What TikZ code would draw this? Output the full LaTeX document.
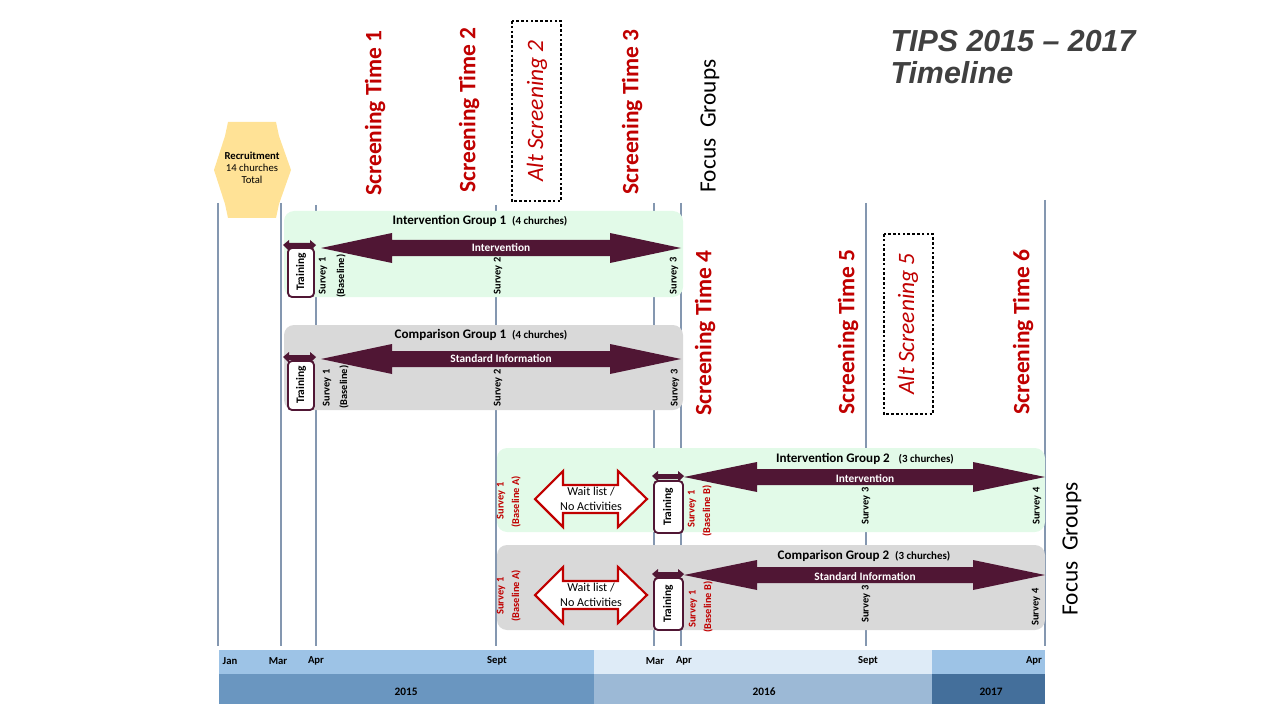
\documentclass[tikz,border=0pt]{standalone}
\usepackage{fontspec}
\setmainfont{Carlito}
\newfontfamily\titlefont[Ligatures=TeX]{Liberation Sans}

\definecolor{wine}{RGB}{80,22,52}
\definecolor{scrred}{RGB}{192,0,0}
\definecolor{mintfill}{RGB}{226,250,232}
\definecolor{greyfill}{RGB}{217,217,217}
\definecolor{markline}{RGB}{132,151,176}
\definecolor{recruitfill}{RGB}{255,226,150}
\definecolor{monthA}{RGB}{157,195,230}
\definecolor{monthB}{RGB}{222,235,247}
\definecolor{yearA}{RGB}{106,150,192}
\definecolor{yearB}{RGB}{156,185,214}
\definecolor{yearC}{RGB}{68,111,155}
\definecolor{titlegrey}{RGB}{64,64,64}

\tikzset{every picture/.style={line width=0.75pt}}
\tikzset{
  markline/.style={draw=markline, line width=1.1pt},
  groupbox/.style={draw=none, rounded corners=7.5pt},
  wineshape/.style={fill=wine, draw=none},
  trainbox/.style={draw=wine, fill=white, line width=1.4pt, rounded corners=3pt},
  waitshape/.style={draw=scrred, fill=white, line width=1.6pt},
  altbox/.style={draw=black, line width=2pt, dash pattern={on 2pt off 1.6pt}},
  screening/.style={rotate=90, inner sep=0pt, text=scrred, font=\fontsize{17.6}{21}\selectfont\bfseries},
  altscreen/.style={rotate=90, inner sep=0pt, text=scrred, font=\fontsize{17.6}{21}\selectfont\itshape},
  focus/.style={rotate=90, inner sep=0pt, font=\fontsize{17.5}{21}\selectfont},
  training/.style={rotate=90, inner sep=0pt, font=\fontsize{8.6}{10}\selectfont\bfseries},
  survey/.style={rotate=90, anchor=west, inner sep=0pt, font=\fontsize{7.8}{9}\selectfont\bfseries},
  redsurvey/.style={survey, text=scrred},
  grouptitle/.style={inner sep=0pt, font=\fontsize{9.8}{11}\selectfont\bfseries},
  arrowlabel/.style={inner sep=0pt, text=white, font=\fontsize{8.5}{10}\selectfont\bfseries},
  monthlabel/.style={inner sep=0pt, font=\fontsize{8}{9}\selectfont\bfseries},
  yearlabel/.style={inner sep=0pt, font=\fontsize{8.5}{10}\selectfont\bfseries},
}

\begin{document}
\begin{tikzpicture}[x=0.75pt,y=0.75pt,yscale=-1,xscale=1]
\useasboundingbox (0,0) rectangle (1280,720);

%Shape: Double Arrow [recruitment]
\draw [fill=recruitfill, draw=none] (228,122) -- (276,122) -- (279,136) -- (291,170) -- (279,204) -- (276,218) -- (228,218) -- (225,204) -- (214,170) -- (225,136) -- cycle ;

%Shape: Lines [month markers]
\draw [markline] (218,203) -- (218,646) ;
\draw [markline] (281,203) -- (281,646) ;
\draw [markline] (316,205) -- (316,646) ;
\draw [markline] (496,205) -- (496,646) ;
\draw [markline] (654,203) -- (654,646) ;
\draw [markline] (681,203) -- (681,646) ;
\draw [markline] (866,203) -- (866,646) ;
\draw [markline] (1045,200) -- (1045,646) ;

%Shape: Rounded Rect [intervention group 1]
\draw [groupbox, fill=mintfill] (284,211) rectangle (683,297) ;
%Shape: Rounded Rect [comparison group 1]
\draw [groupbox, fill=greyfill] (284,325) rectangle (683,410) ;
%Shape: Rounded Rect [intervention group 2]
\draw [groupbox, fill=mintfill] (497,448) rectangle (1045,532) ;
%Shape: Rounded Rect [comparison group 2]
\draw [groupbox, fill=greyfill] (497,545) rectangle (1045,630) ;

%Shape: Double Arrow [group 1 main]
\draw [wineshape] (321,248) -- (392,233) -- (392,240) -- (610,240) -- (610,233) -- (681,248) -- (610,263) -- (610,256) -- (392,256) -- (392,263) -- cycle ;
%Shape: Double Arrow [comparison 1 main]
\draw [wineshape] (321,359) -- (392,344) -- (392,351) -- (610,351) -- (610,344) -- (681,359) -- (610,374) -- (610,367) -- (392,367) -- (392,374) -- cycle ;
%Shape: Double Arrow [group 2 main]
\draw [wineshape] (684,477) -- (757,462) -- (757,469) -- (973,469) -- (973,462) -- (1045,477) -- (973,492) -- (973,485) -- (757,485) -- (757,492) -- cycle ;
%Shape: Double Arrow [comparison 2 main]
\draw [wineshape] (684,575) -- (757,560) -- (757,567) -- (973,567) -- (973,560) -- (1045,575) -- (973,590) -- (973,583) -- (757,583) -- (757,590) -- cycle ;

%Shape: Double Arrow [training arrows]
\draw [wineshape] (283,245) -- (289,240) -- (289,243) -- (310,243) -- (310,240) -- (316,245) -- (310,251) -- (310,248) -- (289,248) -- (289,251) -- cycle ;
\draw [wineshape] (283,357) -- (289,352) -- (289,355) -- (310,355) -- (310,352) -- (316,357) -- (310,363) -- (310,360) -- (289,360) -- (289,363) -- cycle ;
\draw [wineshape] (652,476) -- (658,471) -- (658,474) -- (678,474) -- (678,471) -- (684,476) -- (678,482) -- (678,479) -- (658,479) -- (658,482) -- cycle ;
\draw [wineshape] (652,574) -- (658,569) -- (658,572) -- (678,572) -- (678,569) -- (684,574) -- (678,580) -- (678,577) -- (658,577) -- (658,580) -- cycle ;

%Shape: Rounded Rect [training boxes]
\draw [trainbox] (288,248) rectangle (314,297) ;
\draw [trainbox] (288,361) rectangle (314,410) ;
\draw [trainbox] (654,481) rectangle (683,533) ;
\draw [trainbox] (654,578) rectangle (683,630) ;

%Shape: Double Arrow [wait list]
\draw [waitshape] (535,499) -- (563,471) -- (563,485) -- (618,485) -- (618,471) -- (647,499) -- (618,527) -- (618,513) -- (563,513) -- (563,527) -- cycle ;
\draw [waitshape] (535,595) -- (563,567) -- (563,581) -- (618,581) -- (618,567) -- (647,595) -- (618,623) -- (618,609) -- (563,609) -- (563,623) -- cycle ;

%Shape: Dotted Rect [alt screenings]
\draw [altbox] (512,21) rectangle (561,201) ;
\draw [altbox] (884,234) rectangle (933,414) ;

%Shape: Rectangles [time bar]
\draw [draw=none, fill=monthA] (219,650) rectangle (594,674) ;
\draw [draw=none, fill=monthB] (594,650) rectangle (932,674) ;
\draw [draw=none, fill=monthA] (932,650) rectangle (1045,674) ;
\draw [draw=none, fill=yearA] (219,674) rectangle (594,704) ;
\draw [draw=none, fill=yearB] (594,674) rectangle (932,704) ;
\draw [draw=none, fill=yearC] (932,674) rectangle (1045,704) ;

% Text Node
\draw (890,30) node (title) [anchor=north west, inner sep=0pt, text=titlegrey, align=left, font=\titlefont\fontsize{22.8}{24}\selectfont\bfseries\itshape] {TIPS 2015 -- 2017\\Timeline};
% Text Node
\draw (252,168) node (recruit) [inner sep=0pt, align=center, font=\fontsize{8}{9}\selectfont] {\textbf{Recruitment}\\14 churches\\Total};

% Text Node
\draw (375,113) node (scr1) [screening] {Screening Time 1};
% Text Node
\draw (469,110) node (scr2) [screening] {Screening Time 2};
% Text Node
\draw (537,111) node (alt2) [altscreen] {Alt Screening 2};
% Text Node
\draw (632,112) node (scr3) [screening] {Screening Time 3};
% Text Node
\draw (710,126) node (focus1) [focus] {Focus\ \ Groups};
% Text Node
\draw (705,333) node (scr4) [screening] {Screening Time 4};
% Text Node
\draw (848,332) node (scr5) [screening] {Screening Time 5};
% Text Node
\draw (908,324) node (alt5) [altscreen] {Alt Screening 5};
% Text Node
\draw (1023,332) node (scr6) [screening] {Screening Time 6};
% Text Node
\draw (1072,549) node (focus2) [focus] {Focus\ \ Groups};

% Text Node
\draw (480,221) node (ig1) [grouptitle] {Intervention Group 1\ \ {\fontsize{8.2}{9}\selectfont(4 churches)}};
% Text Node
\draw (481,335) node (cg1) [grouptitle] {Comparison Group 1\ \ {\fontsize{8.2}{9}\selectfont(4 churches)}};
% Text Node
\draw (865,459) node (ig2) [grouptitle] {Intervention Group 2\ \ \ {\fontsize{8.2}{9}\selectfont(3 churches)}};
% Text Node
\draw (864,556) node (cg2) [grouptitle] {Comparison Group 2\ \ {\fontsize{8.2}{9}\selectfont(3 churches)}};

% Text Node
\draw (501,248) node (act1) [arrowlabel] {Intervention};
% Text Node
\draw (501,359) node (act2) [arrowlabel] {Standard Information};
% Text Node
\draw (865,479) node (act3) [arrowlabel] {Intervention};
% Text Node
\draw (865,577) node (act4) [arrowlabel] {Standard Information};

% Text Node
\draw (301,272) node (tr1) [training] {Training};
% Text Node
\draw (301,385) node (tr2) [training] {Training};
% Text Node
\draw (668,507) node (tr3) [training] {Training};
% Text Node
\draw (668,604) node (tr4) [training] {Training};

% Text Node
\draw (591,499) node (wait1) [inner sep=0pt, align=center, font=\fontsize{9.1}{11}\selectfont] {Wait list /\\No Activities};
% Text Node
\draw (591,595) node (wait2) [inner sep=0pt, align=center, font=\fontsize{9.1}{11}\selectfont] {Wait list /\\No Activities};

% Text Node
\draw (323,295) node (s1a) [survey] {Survey 1};
\draw (341,298) node (b1a) [survey] {(Baseline)};
\draw (498,295) node (s2a) [survey] {Survey 2};
\draw (674,295) node (s3a) [survey] {Survey 3};
% Text Node
\draw (327,407) node (s1b) [survey] {Survey 1};
\draw (344,409) node (b1b) [survey] {(Baseline)};
\draw (498,407) node (s2b) [survey] {Survey 2};
\draw (675,407) node (s3b) [survey] {Survey 3};
% Text Node
\draw (501,520) node (s1c) [redsurvey] {Survey 1};
\draw (516,528) node (bac) [redsurvey] {(Baseline A)};
\draw (692,528) node (s1d) [redsurvey] {Survey 1};
\draw (707,537) node (bbd) [redsurvey] {(Baseline B)};
\draw (866,525) node (s3c) [survey] {Survey 3};
\draw (1037,525) node (s4c) [survey] {Survey 4};
% Text Node
\draw (501,615) node (s1e) [redsurvey] {Survey 1};
\draw (516,622) node (bae) [redsurvey] {(Baseline A)};
\draw (693,628) node (s1f) [redsurvey] {Survey 1};
\draw (708,633) node (bbf) [redsurvey] {(Baseline B)};
\draw (866,623) node (s3e) [survey] {Survey 3};
\draw (1036,626) node (s4e) [survey] {Survey 4};

% Text Node
\draw (230,661) node (mjan) [monthlabel] {Jan};
\draw (278,661) node (mmar) [monthlabel] {Mar};
\draw (316,661) node (mapr) [monthlabel] {Apr};
\draw (497,661) node (msep) [monthlabel] {Sept};
\draw (655,661) node (mmarb) [monthlabel] {Mar};
\draw (684,661) node (maprb) [monthlabel] {Apr};
\draw (868,661) node (msepb) [monthlabel] {Sept};
\draw (1034,661) node (maprc) [monthlabel] {Apr};
% Text Node
\draw (406,692) node (y2015) [yearlabel] {2015};
\draw (764,692) node (y2016) [yearlabel] {2016};
\draw (991,692) node (y2017) [yearlabel] {2017};

\end{tikzpicture}
\end{document}
